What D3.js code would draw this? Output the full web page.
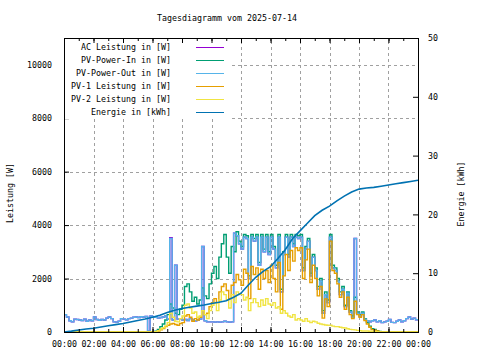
<!DOCTYPE html>
<html><head><meta charset="utf-8">
<script src="https://cdn.jsdelivr.net/npm/d3@7"></script>
<style>
body{margin:0;background:#fff}
svg{display:block}
text{font-family:"DejaVu Sans Mono","Liberation Mono",monospace;font-size:8.3px;fill:#000}
</style></head><body>
<svg id="c" width="480" height="360"></svg>
<script>
const chartTitle = "Tagesdiagramm vom 2025-07-14";
const yLabel = "Leistung [W]";
const y2Label = "Energie [kWh]";
const legendLabels = ["AC Leistung in [W]","PV-Power-In in [W]","PV-Power-Out in [W]","PV-1 Leistung in [W]","PV-2 Leistung in [W]","Energie in [kWh]"];
const seriesColors = ["#9400d3","#009e73","#56b4e9","#e69f00","#f0e442","#0072b2"];
const xTickLabels = ["00:00","02:00","04:00","06:00","08:00","10:00","12:00","14:00","16:00","18:00","20:00","22:00","00:00"];
const yTicks = [0,2000,4000,6000,8000,10000];
const y2Ticks = [0,10,20,30,40,50];
const powerStepMin = 10;   // power samples every 10 minutes, 00:00 .. 24:00
const energyStepMin = 30;  // energy samples every 30 minutes

const pvPowerOut = [
 650,560,420,380,480,470, 450,430,480,400,450,420, 560,470,440,470,450,520,
 560,500,380,370,400,500, 480,460,500,520,550,560, 540,570,560,580,30,600,
 560,550,520,540,560,600, 480,3500,450,2500,480,500, 450,470,430,500,450,420,
 450,480,3200,420,380,380, 380,370,380,370,380,400, 380,370,380,3700,3600,3300,
 3100,3550,3500,2000,3550,3400, 3550,2500,3550,3000,3550,2900, 3550,3100,2400,3550,1500,2900,
 3550,2800,3550,3200,3550,3500, 3550,2300,3100,3400,2100,2800, 2300,1600,1900,700,1400,1100,
 3550,2400,2300,1900,1400,1600, 950,1450,750,550,3500,700, 600,700,480,420,380,420,
 450,380,420,350,380,400, 470,360,350,400,450,380, 420,500,560,480,520,460,
 450];
const acLeistung = [
 650,560,420,380,480,470, 450,430,480,400,450,420, 560,470,440,470,450,520,
 560,500,380,370,400,500, 480,460,500,520,550,560, 540,570,560,580,30,600,
 560,550,520,540,560,600, 480,3530,450,2500,480,500, 450,470,430,500,450,420,
 450,480,3200,420,380,380, 380,370,380,370,380,400, 380,370,380,3700,3600,3300,
 3100,3550,3500,2000,3550,3400, 3550,2500,3550,3000,3550,2900, 3550,3100,2400,3550,1500,2900,
 3550,2800,3550,3200,3550,3500, 3550,2300,3100,3400,2100,2800, 2300,1600,1900,700,1400,1100,
 3550,2400,2300,1900,1400,1600, 950,1450,750,550,3500,700, 600,700,480,420,380,420,
 450,380,420,350,380,400, 470,360,350,400,450,380, 420,500,560,480,520,460,
 450];
const pvPowerIn = [
 0,0,0,0,0,0, 0,0,0,0,0,0, 0,0,0,0,0,0,
 0,0,0,0,0,0, 0,0,0,0,0,0, 0,0,0,0,0,0,
 0,30,100,200,300,450, 650,1050,900,700,650,850, 1000,1700,1800,1500,1150,1300,
 1050,1200,1650,1350,1250,1800, 2200,2450,2000,2800,3300,3650, 2800,2200,3200,3000,3750,3400,
 3200,3650,3600,2100,3650,3500, 3650,2600,3650,3100,3650,3000, 3650,3200,2500,3650,1600,3000,
 3650,2900,3650,3300,3650,3600, 3650,2400,3200,3500,2200,2900, 2400,1700,2000,800,1500,1200,
 3650,2500,2400,2000,1500,1700, 1000,1500,800,600,1300,750, 650,750,500,350,220,120,
 100,50,20,0,0,0, 0,0,0,0,0,0, 0,0,0,0,0,0,
 0];
const pv1Leistung = [
 0,0,0,0,0,0, 0,0,0,0,0,0, 0,0,0,0,0,0,
 0,0,0,0,0,0, 0,0,0,0,0,0, 0,0,0,0,0,0,
 0,10,40,80,130,200, 250,300,320,280,250,320, 350,600,650,550,400,500,
 450,550,800,650,700,950, 1100,1250,1100,1500,1700,1800, 1550,1250,1750,1850,2150,1950,
 1750,2350,2200,1250,2450,2150, 2400,1600,2350,2000,2300,1850, 2500,2000,1500,2600,850,2100,
 2900,2300,3050,2650,3150,3050, 3150,2000,2700,3100,1850,2500, 2000,1350,1700,520,1240,950,
 3400,2300,2200,1800,1300,1500, 850,1300,650,500,1150,650, 550,650,430,300,180,90,
 70,35,10,0,0,0, 0,0,0,0,0,0, 0,0,0,0,0,0,
 0];
const pv2Leistung = [
 0,0,0,0,0,0, 0,0,0,0,0,0, 0,0,0,0,0,0,
 0,0,0,0,0,0, 0,0,0,0,0,0, 0,0,0,0,0,0,
 0,15,50,110,160,230, 350,700,550,400,380,500, 600,1000,1050,900,700,750,
 550,600,800,650,500,800, 1000,1100,800,1200,1500,1400, 1200,900,1400,1100,1500,1400,
 1400,1200,1300,800,1100,1250, 1100,950,1200,1000,1250,1050, 1000,1100,900,950,700,800,
 700,600,550,650,450,500, 450,400,500,400,350,400, 380,330,300,280,260,250,
 250,220,200,200,180,160, 150,120,100,90,80,60, 50,40,40,40,30,30,
 20,10,5,0,0,0, 0,0,0,0,0,0, 0,0,0,0,0,0,
 0];
const energieKWh = [
 0,0.15,0.35,0.5,0.65,0.85,1.05,1.25,1.45,1.7,1.95,2.2,
 2.5,2.85,3.3,3.7,4.0,4.2,4.4,4.6,4.85,5.05,5.3,5.9,
 6.6,8.0,9.3,10.3,11.1,12.5,14.0,15.9,17.2,18.5,19.8,20.7,
 21.4,22.3,23.1,23.8,24.3,24.5,24.6,24.8,25.0,25.2,25.4,25.6,
 25.8];

const m = {l:64, r:418, t:38, b:332};
const svg = d3.select("#c");
const x = d3.scaleLinear().domain([0,1440]).range([m.l,m.r]);
const y = d3.scaleLinear().domain([0,11000]).range([m.b,m.t]);
const y2 = d3.scaleLinear().domain([0,50]).range([m.b,m.t]);
const xMajor = d3.range(0,1441,120);
const xMinor = d3.range(0,1441,60);

// grid
const grid = svg.append("g").attr("stroke","#a0a0a0").attr("stroke-dasharray","3,3").attr("shape-rendering","crispEdges");
grid.selectAll("line.gx").data(xMajor.slice(1,-1)).join("line")
  .attr("x1",d=>Math.round(x(d))+0.5).attr("x2",d=>Math.round(x(d))+0.5).attr("y1",m.b).attr("y2",m.t);
grid.selectAll("line.gy").data(yTicks.slice(1)).join("line")
  .attr("x1",m.l).attr("x2",m.r).attr("y1",d=>Math.round(y(d))+0.5).attr("y2",d=>Math.round(y(d))+0.5);

// data
const clip = svg.append("clipPath").attr("id","pc").append("rect")
  .attr("x",m.l).attr("y",m.t).attr("width",m.r-m.l).attr("height",m.b-m.t);
const plot = svg.append("g").attr("clip-path","url(#pc)");
const powerSeries = [acLeistung,pvPowerIn,pvPowerOut,pv1Leistung,pv2Leistung];
const lineP = d3.line().x((d,i)=>x(i*powerStepMin)).y(d=>y(d)).curve(d3.curveStepAfter);
powerSeries.forEach((s,k)=>{
  plot.append("path").attr("d",lineP(s)).attr("fill","none")
    .attr("stroke",seriesColors[k]).attr("stroke-width",1.4);
});
const lineE = d3.line().x((d,i)=>x(i*energyStepMin)).y(d=>y2(d));
plot.append("path").attr("d",lineE(energieKWh)).attr("fill","none")
  .attr("stroke",seriesColors[5]).attr("stroke-width",1.6);

// axes
function styleAxis(g){ g.select(".domain").remove(); g.selectAll("line").attr("stroke","#000"); g.selectAll("text").attr("font-family",null).attr("font-size",null); }
svg.append("g").attr("transform",`translate(0,${m.b})`)
  .call(d3.axisBottom(x).tickValues(xMajor).tickFormat((d,i)=>xTickLabels[i]).tickSize(-5).tickPadding(9))
  .call(styleAxis);
svg.append("g").attr("transform",`translate(0,${m.b})`)
  .call(d3.axisBottom(x).tickValues(xMinor).tickFormat("").tickSize(-3)).call(styleAxis);
svg.append("g").attr("transform",`translate(${m.l},0)`)
  .call(d3.axisLeft(y).tickValues(yTicks).tickFormat(d=>String(d)).tickSize(-5).tickPadding(12))
  .call(styleAxis);
svg.append("g").attr("transform",`translate(${m.r},0)`)
  .call(d3.axisRight(y2).tickValues(y2Ticks).tickFormat(d=>String(d)).tickSize(-5).tickPadding(10))
  .call(styleAxis);

// legend (opaque, no frame)
const lg = svg.append("g");
lg.append("rect").attr("x",m.l+1).attr("y",m.t+1).attr("width",167).attr("height",80).attr("fill","#fff");
legendLabels.forEach((t,i)=>{
  const yy = 47 + i*13;
  lg.append("text").attr("x",171).attr("y",yy+3).attr("text-anchor","end").text(t);
  lg.append("line").attr("x1",196).attr("x2",224).attr("y1",yy+0.5).attr("y2",yy+0.5)
    .attr("stroke",seriesColors[i]).attr("stroke-width",1);
});

// border
svg.append("rect").attr("x",m.l+0.5).attr("y",m.t+0.5).attr("width",m.r-m.l).attr("height",m.b-m.t)
  .attr("fill","none").attr("stroke","#000").attr("stroke-width",1).attr("shape-rendering","crispEdges");
svg.append("g").attr("transform",`translate(0,${m.t})`)
  .call(d3.axisTop(x).tickValues(xMinor).tickFormat("").tickSize(-3)).call(styleAxis);
svg.append("g").attr("transform",`translate(0,${m.t})`)
  .call(d3.axisTop(x).tickValues(xMajor).tickFormat("").tickSize(-5)).call(styleAxis);

// titles
svg.append("text").attr("x",227).attr("y",21).attr("text-anchor","middle").text(chartTitle);
svg.append("text").attr("transform","translate(13,193) rotate(-90)").attr("text-anchor","middle").text(yLabel);
svg.append("text").attr("transform","translate(464,194) rotate(-90)").attr("text-anchor","middle").text(y2Label);
</script>
</body></html>
